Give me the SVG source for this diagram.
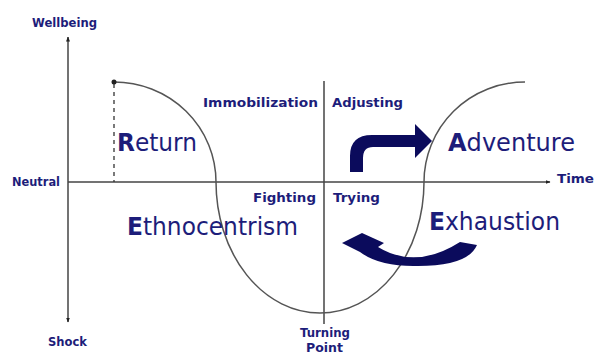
<svg xmlns="http://www.w3.org/2000/svg" width="597" height="354" viewBox="0 0 597 354">
<style>
.lbl{font-family:"DejaVu Sans",Verdana,sans-serif;font-weight:bold;font-size:11.5px;fill:#1d1d7a}
.big{font-family:"DejaVu Sans",Verdana,sans-serif;font-size:24px;fill:#1d1d7a}
.big tspan.b{font-weight:bold}
.axis{stroke:#444;stroke-width:1.5;fill:none}
.curve{stroke:#555;stroke-width:1.5;fill:none}
.arrow{fill:#0b0b5c}
</style>
<defs>
<marker id="ah" viewBox="0 0 10 10" refX="9" refY="5" markerWidth="5" markerHeight="5" orient="auto-start-reverse" markerUnits="userSpaceOnUse">
<path d="M0,1 L10,5 L0,9 Z" fill="#222"/>
</marker>
</defs>
<rect width="597" height="354" fill="#fff"/>
<g id="connectors">
<line class="axis" x1="68" y1="320" x2="68" y2="37" marker-end="url(#ah)"/>
<line class="axis" x1="68" y1="320" x2="68" y2="322" marker-end="url(#ah)"/>
<line class="axis" x1="68" y1="182" x2="550" y2="182" marker-end="url(#ah)"/>
<line class="axis" x1="324" y1="81" x2="324" y2="324"/>
<line x1="114" y1="84" x2="114" y2="182" stroke="#333" stroke-width="1.3" stroke-dasharray="4,4"/>
<path class="curve" d="M114,82 A102,100 0 0 1 216,182 A104,131 0 0 0 424,182 A101,100 0 0 1 525,82"/>
<circle cx="114" cy="82" r="2.5" fill="#222"/>
<path class="arrow" d="M350,172 L350,156 Q350,135 372,135 L415,135 L415,124 L432,141 L415,158 L415,147 L373,147 Q363,147 363,158 L363,172 Z"/>
<path class="arrow" d="M342,243 L362,233 L384,243 L378,247 Q416,270 460,242 L477,245 Q468,266 418,266 Q380,267 360,252 Z"/>
</g>
<g id="axis-labels">
<text class="lbl" x="32" y="27" textLength="65" lengthAdjust="spacingAndGlyphs">Wellbeing</text>
<text class="lbl" x="12" y="186" textLength="48" lengthAdjust="spacingAndGlyphs">Neutral</text>
<text class="lbl" x="48" y="346" textLength="39" lengthAdjust="spacingAndGlyphs">Shock</text>
<text class="lbl" x="557" y="183" font-size="14" textLength="37" lengthAdjust="spacingAndGlyphs">Time</text>
<text class="lbl" x="300" y="337" font-size="11" textLength="50" lengthAdjust="spacingAndGlyphs">Turning</text>
<text class="lbl" x="306" y="352" font-size="11" textLength="37" lengthAdjust="spacingAndGlyphs">Point</text>
</g>
<g id="phase-labels">
<text class="lbl" x="203" y="107" textLength="115" lengthAdjust="spacingAndGlyphs">Immobilization</text>
<text class="lbl" x="332" y="107" textLength="71" lengthAdjust="spacingAndGlyphs">Adjusting</text>
<text class="lbl" x="253" y="202" textLength="63" lengthAdjust="spacingAndGlyphs">Fighting</text>
<text class="lbl" x="333" y="202" textLength="47" lengthAdjust="spacingAndGlyphs">Trying</text>
</g>
<g id="return"><text class="big" x="117" y="151" textLength="80" lengthAdjust="spacingAndGlyphs"><tspan class="b">R</tspan>eturn</text></g>
<g id="adventure"><text class="big" x="448" y="151" textLength="127" lengthAdjust="spacingAndGlyphs"><tspan class="b">A</tspan>dventure</text></g>
<g id="ethnocentrism"><text class="big" x="127" y="235" textLength="171" lengthAdjust="spacingAndGlyphs"><tspan class="b">E</tspan>thnocentrism</text></g>
<g id="exhaustion"><text class="big" x="429" y="230" textLength="131" lengthAdjust="spacingAndGlyphs"><tspan class="b">E</tspan>xhaustion</text></g>
</svg>
